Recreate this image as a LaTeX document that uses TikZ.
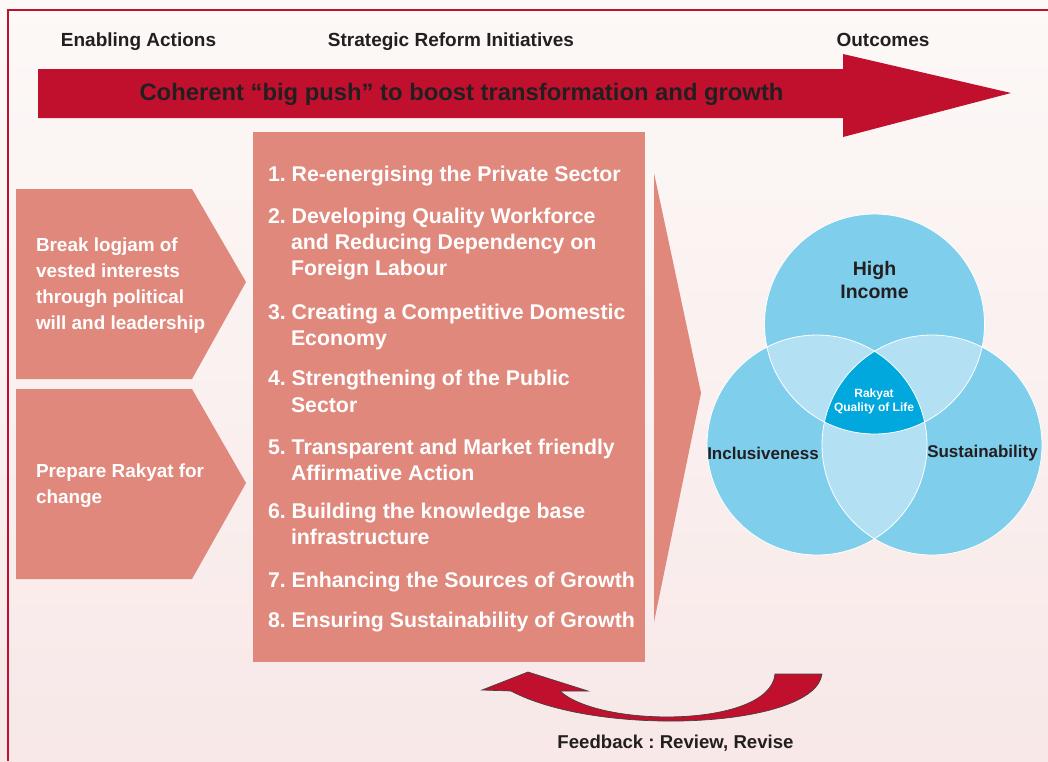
\documentclass[tikz,border=0pt]{standalone}
\usepackage{fontspec}
\setmainfont{Liberation Sans}
\definecolor{bgtop}{HTML}{FCF9F7}
\definecolor{bgbot}{HTML}{F8E8E8}
\definecolor{pushred}{HTML}{C1102E}
\definecolor{salmon}{HTML}{E0887C}
\definecolor{vblue}{HTML}{7ECEEC}
\definecolor{vlight}{HTML}{B3E0F3}
\definecolor{vcore}{HTML}{00A8DE}
\definecolor{ink}{HTML}{231F20}
\newcommand\fsz[1]{\fontsize{#1}{#1}\selectfont}
\frenchspacing
\begin{document}
\frenchspacing
\begin{tikzpicture}[x=1pt,y=-1pt,
  txt/.style={inner sep=0pt, outer sep=0pt},
  hdr/.style={txt, anchor=base, text=ink, font=\bfseries\fsz{19}},
  item/.style={txt, anchor=base west, text=white, font=\bfseries\fsz{21.3}},
  chev/.style={txt, anchor=base west, text=white, font=\bfseries\fsz{18.9}},
  venn/.style={txt, anchor=base, text=ink, font=\bfseries\fsz{17}},
  shapefill/.style={fill=salmon},
  circ/.style={radius=110pt}]
\useasboundingbox (0,0) rectangle (1048,761);
\shade[top color=bgtop,bottom color=bgbot] (0,0) rectangle (1048,761);
\draw[pushred, line width=1.6pt] (8,761) -- (8,10) -- (1048,10);

% headers
\node[hdr] (h1) at (138.5,46) {Enabling Actions};
\node[hdr] (h2) at (451,46) {Strategic Reform Initiatives};
\node[hdr] (h3) at (883,46) {Outcomes};

% big push arrow
\fill[pushred] (38,69) -- (843,69) -- (843,54) -- (1011,93) -- (843,137) -- (843,118) -- (38,118) -- cycle;
\node[txt, anchor=base, text=ink, font=\bfseries\fsz{23.8}] (push) at (461.5,100.7) {Coherent “big push” to boost transformation and growth};

% enabling chevrons
\fill[shapefill] (16,189) -- (192,189) -- (246,282) -- (192,379) -- (16,379) -- cycle;
\fill[shapefill] (16,389) -- (192,389) -- (246,483) -- (192,579) -- (16,579) -- cycle;
\node[chev] (c1a) at (36,251.5) {Break logjam of};
\node[chev] (c1b) at (36,277.5) {vested interests};
\node[chev] (c1c) at (36,303.5) {through political};
\node[chev] (c1d) at (36,329.5) {will and leadership};
\node[chev] (c2a) at (36,477.5) {Prepare Rakyat for};
\node[chev] (c2b) at (36,503.5) {change};

% initiatives box
\fill[shapefill] (253,132) rectangle (645,662);
\node[item] (i1)  at (268,181.5) {1. Re-energising the Private Sector};
\node[item] (i2a) at (268,223.5) {2. Developing Quality Workforce};
\node[item] (i2b) at (291,249.5) {and Reducing Dependency on};
\node[item] (i2c) at (291,275.5) {Foreign Labour};
\node[item] (i3a) at (268,319.5) {3. Creating a Competitive Domestic};
\node[item] (i3b) at (291,345.5) {Economy};
\node[item] (i4a) at (268,385.5) {4. Strengthening of the Public};
\node[item] (i4b) at (291,412) {Sector};
\node[item] (i5a) at (268,454.5) {5. Transparent and Market friendly};
\node[item] (i5b) at (291,480.5) {Affirmative Action};
\node[item] (i6a) at (268,518.5) {6. Building the knowledge base};
\node[item] (i6b) at (291,544.5) {infrastructure};
\node[item] (i7)  at (268,587.5) {7. Enhancing the Sources of Growth};
\node[item] (i8)  at (268,627.5) {8. Ensuring Sustainability of Growth};

% triangle pointer
\fill[shapefill] (654,173) -- (701,393) -- (654,622) -- cycle;

% Venn
\coordinate (cT) at (874.5,324);
\coordinate (cL) at (817,445);
\coordinate (cR) at (932,445);
\fill[vblue] (cT) circle[circ];
\fill[vblue] (cL) circle[circ];
\fill[vblue] (cR) circle[circ];
\begin{scope}
  \clip (cT) circle[circ];
  \fill[vlight] (cL) circle[circ];
  \fill[vlight] (cR) circle[circ];
\end{scope}
\begin{scope}
  \clip (cL) circle[circ];
  \fill[vlight] (cR) circle[circ];
\end{scope}
\begin{scope}
  \clip (cT) circle[circ];
  \clip (cL) circle[circ];
  \fill[vcore] (cR) circle[circ];
\end{scope}
\draw[white, line width=0.8pt] (cT) circle[circ] (cL) circle[circ] (cR) circle[circ];
\node[venn, font=\bfseries\fsz{19.5}] (hi1) at (874.5,275) {High};
\node[venn, font=\bfseries\fsz{19.5}] (hi2) at (874.5,298.3) {Income};
\node[venn] (incl) at (763,459.3) {Inclusiveness};
\node[venn] (sust) at (982.5,457) {Sustainability};
\node[txt, anchor=base, text=white, font=\bfseries\fsz{12}] (rq1) at (874,397.7) {Rakyat};
\node[txt, anchor=base, text=white, font=\bfseries\fsz{12}] (rq2) at (874,411.7) {Quality of Life};

% feedback arrow
\filldraw[fill=pushred, draw=ink!85, line width=0.7pt]
  (775,674) -- (822,674)
  .. controls (815,728) and (600,738) .. (511,691)
  -- (482,690) -- (528,672) -- (588,691) -- (560,691)
  .. controls (600,728) and (770,728) .. (775,674) -- cycle;
\node[txt, anchor=base, text=ink, font=\bfseries\fsz{18.6}] (fb) at (675.5,748.3) {Feedback : Review, Revise};
\end{tikzpicture}
\end{document}
